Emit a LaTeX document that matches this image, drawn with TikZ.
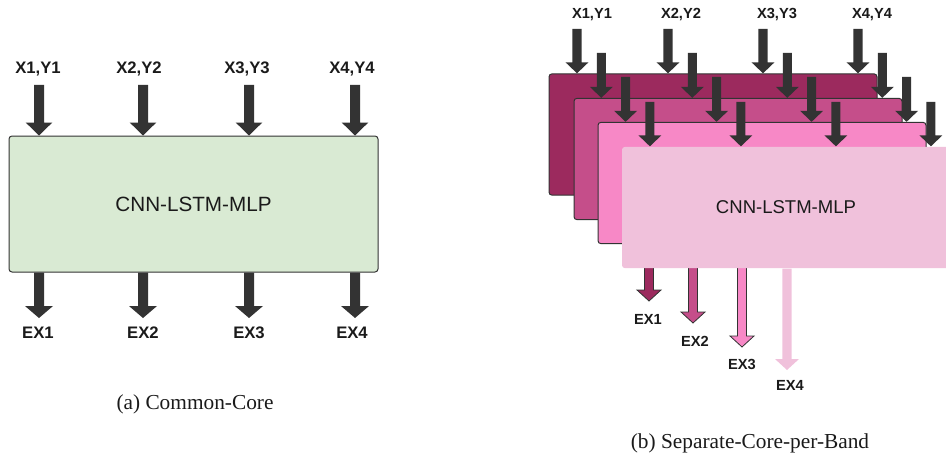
\documentclass[tikz,border=0pt]{standalone}
\usepackage{fontspec}
\setmainfont{Liberation Serif}
\setsansfont{Liberation Sans}
\usetikzlibrary{calc}
\definecolor{dark}{HTML}{333333}
\definecolor{txt}{HTML}{1A1A1A}
\definecolor{coregreen}{HTML}{D9EAD3}
\definecolor{bandA}{HTML}{9C2A5E}
\definecolor{bandB}{HTML}{C54E8A}
\definecolor{bandC}{HTML}{F788C6}
\definecolor{bandD}{HTML}{F0C1DB}
% #1 style, #2 from, #3 to, #4 half shaft, #5 half head, #6 head length
\newcommand\blockarrow[6]{%
  \path[#1] let \p1=(#2), \p2=(#3) in
    (\x1-#4,\y1) -- (\x1+#4,\y1) -- (\x1+#4,\y2+#6) -- (\x1+#5,\y2+#6)
    -- (\x1,\y2) -- (\x1-#5,\y2+#6) -- (\x1-#4,\y2+#6) -- cycle;}
\begin{document}
\begin{tikzpicture}[x=0.75pt,y=-0.75pt,
  lbl/.style={font=\sffamily\bfseries\fontsize{12.5}{14}\selectfont, text=txt, inner sep=0pt},
  lblr/.style={font=\sffamily\bfseries\fontsize{11}{13}\selectfont, text=txt, inner sep=0pt},
  corebox/.style={draw=dark, line width=0.75pt, rounded corners=2.25pt, fill=coregreen,
    minimum width=276.75pt, minimum height=102pt, inner sep=0pt,
    font=\sffamily\fontsize{15.5}{18}\selectfont, text=txt},
  bandbox/.style={draw=dark, line width=0.75pt, rounded corners=2.25pt,
    minimum width=246pt, minimum height=91pt, inner sep=0pt,
    font=\sffamily\fontsize{13.9}{16}\selectfont, text=txt},
  band1/.style={fill=bandA}, band2/.style={fill=bandB},
  band3/.style={fill=bandC}, band4/.style={fill=bandD, draw=none},
  darr/.style={fill=dark},
  exarr1/.style={fill=bandA, draw=dark, line width=0.6pt},
  exarr2/.style={fill=bandB, draw=dark, line width=0.6pt},
  exarr3/.style={fill=bandC, draw=dark, line width=0.6pt},
  exarr4/.style={fill=bandD},
  caption/.style={font=\fontsize{16}{19}\selectfont, text=txt, inner sep=0pt}]
\useasboundingbox (0,0) rectangle (946,460);
\clip (0,0) rectangle (946,460);

% ---------- (a) Common-Core ----------
\node[corebox] (core) at (193.5,204) {CNN-LSTM-MLP};
\foreach \i/\ax/\lx/\ox in {1/39/38/38, 2/143/139/143, 3/249/247/249, 4/355/352/352} {
  \node[lbl] (in\i) at (\lx,69) {X\i,Y\i};
  \coordinate (ia\i) at (\ax,85);
  \blockarrow{darr}{ia\i}{ia\i |- core.north}{3.75pt}{10pt}{9.75pt}
  \coordinate (oa\i) at (\ax,318);
  \blockarrow{darr}{oa\i |- core.south}{oa\i}{3.75pt}{10.5pt}{9pt}
  \node[lbl] (out\i) at (\ox,333) {EX\i};
}
\node[caption] (capa) at (195,404) {(a) Common-Core};

% ---------- (b) Separate-Core-per-Band ----------
\foreach \i/\lx in {1/592, 2/681, 3/777, 4/872} {
  \node[lblr] (rin\i) at (\lx,15) {X\i,Y\i};
}
\foreach \k/\cx/\cy/\top/\ex/\tip/\lx/\ly in
  {1/713/134.5/74/649/301/648/319,
   2/738/159/98/693/323/695/341,
   3/762/183/122/742/347/742/364,
   4/786/207.5/147/787/370/790/385} {
  \node[bandbox, band\k] (b\k) at (\cx,\cy) {\ifnum\k=4 CNN-LSTM-MLP\fi};
  \foreach \i/\ax in {1/577, 2/668, 3/763, 4/858} {
    \coordinate (t\k\i) at ({\ax+24.3*(\k-1)},\top-45);
    \blockarrow{darr}{t\k\i}{t\k\i |- b\k.north}{3.4pt}{8.6pt}{8.25pt}
  }
  \coordinate (e\k) at (\ex,\tip);
  \blockarrow{exarr\k}{e\k |- b\k.south}{e\k}{3.4pt}{9pt}{8.25pt}
  \node[lblr] (rout\k) at (\lx,\ly) {EX\k};
}
\node[caption] (capb) at (750,443) {(b) Separate-Core-per-Band};
\end{tikzpicture}
\end{document}
